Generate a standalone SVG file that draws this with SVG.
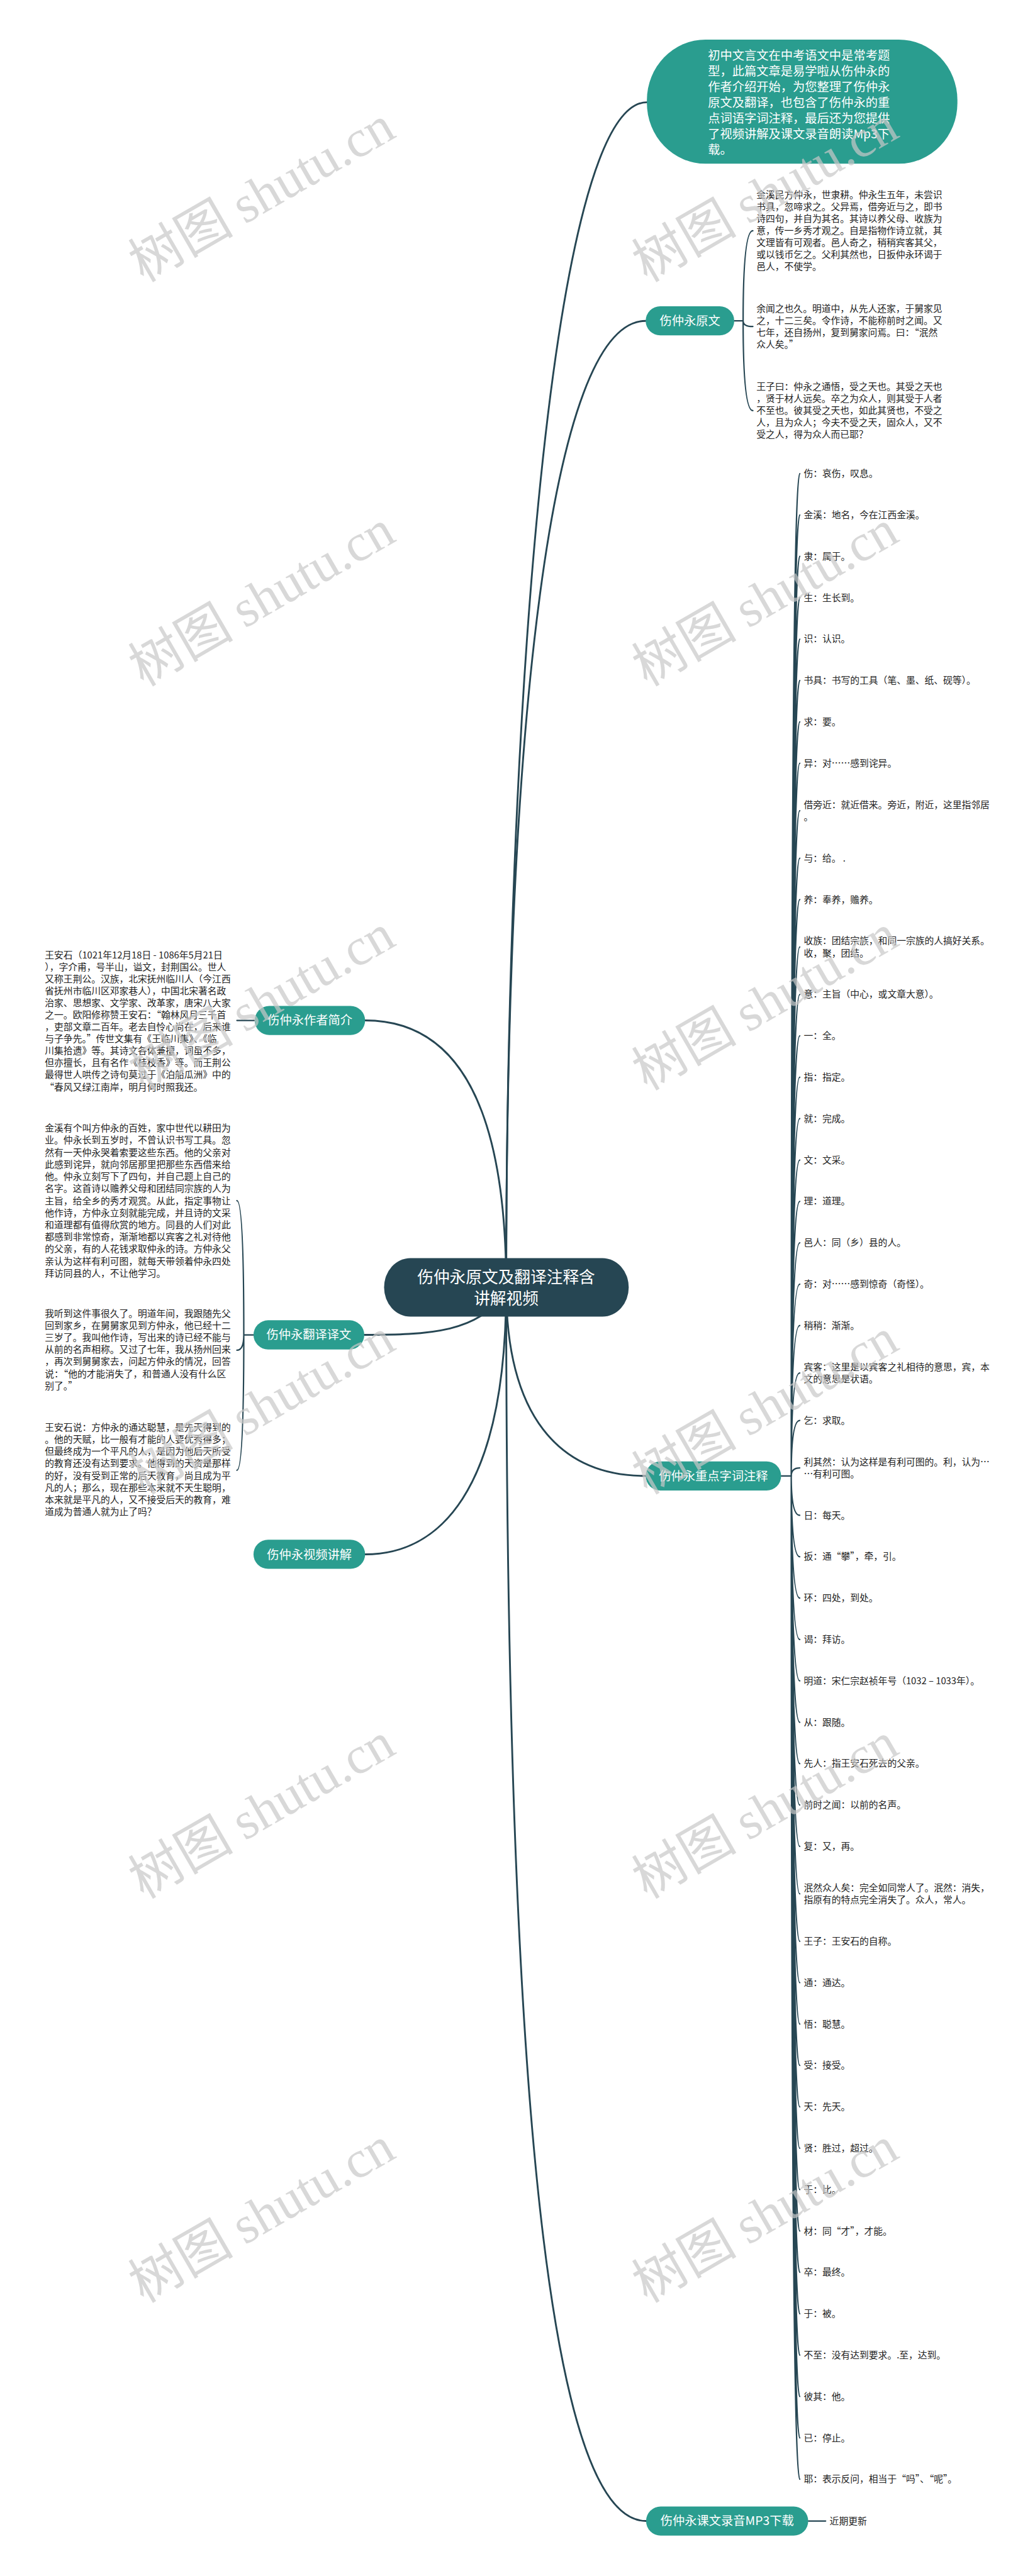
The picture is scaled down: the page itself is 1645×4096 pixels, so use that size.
<svg xmlns="http://www.w3.org/2000/svg" width="1645" height="4096" viewBox="0 0 1645 4096">
<style>
text{font-family:"Noto Sans CJK SC","Noto Sans",sans-serif}
.tn{fill:#2a9d8f}
.dn{fill:#264653}
.wt{fill:#fff;font-size:30px}
.bt{fill:#222;font-size:23px}
.cn{fill:none;stroke:#264653;stroke-width:4.5;stroke-linecap:round}
.cs{fill:none;stroke:#264653;stroke-width:3.5;stroke-linecap:round}
.wm{fill:#c8c8c8;opacity:.7;font-size:130px}
.wm tspan{font-family:"Liberation Serif",serif}
</style>
<rect width="1645" height="4096" fill="#fff"/>
<g transform="scale(0.6426)">
<g id="connectors">
<path class="cn" d="M1252 3185C1252 1800 1360 253 1600 253"/>
<path class="cn" d="M1252 3185C1252 1800 1360 794 1597 794"/>
<path class="cn" d="M1252 3185C1252 3500 1380 3652 1597 3652"/>
<path class="cn" d="M1252 3185C1252 5200 1360 6238 1598 6238"/>
<path class="cn" d="M1252 3185C1252 2650 1080 2525 903 2525"/>
<path class="cn" d="M1252 3185C1200 3300 1050 3303 901 3303"/>
<path class="cn" d="M1252 3185C1252 3700 1080 3846 903 3846"/>
<path class="cs" d="M630 2525H586"/>
<path class="cs" d="M627 3303H603M603 3303Q603 2971 586 2971M603 3303Q603 3341 586 3341M603 3303Q603 3638 586 3638"/>
<path class="cs" d="M1816 794H1838M1838 794Q1838 571 1862 571M1838 794Q1838 808 1862 808M1838 794Q1838 1016 1862 1016"/>
<path class="cs" d="M1999 6238H2042"/>
<path class="cs" d="M1932 3652H1957"/>
<path class="cs" d="M1957 3652Q1957 1172 1978 1172M1957 3652Q1957 1274.4 1978 1274.4M1957 3652Q1957 1376.8 1978 1376.8M1957 3652Q1957 1479.2 1978 1479.2M1957 3652Q1957 1581.6 1978 1581.6M1957 3652Q1957 1684 1978 1684M1957 3652Q1957 1786.4 1978 1786.4M1957 3652Q1957 1888.8 1978 1888.8M1957 3652Q1957 2006.2 1978 2006.2M1957 3652Q1957 2123.6 1978 2123.6M1957 3652Q1957 2226 1978 2226M1957 3652Q1957 2343.4 1978 2343.4M1957 3652Q1957 2460.8 1978 2460.8M1957 3652Q1957 2563.2 1978 2563.2M1957 3652Q1957 2665.6 1978 2665.6M1957 3652Q1957 2768 1978 2768M1957 3652Q1957 2870.4 1978 2870.4M1957 3652Q1957 2972.8 1978 2972.8M1957 3652Q1957 3075.2 1978 3075.2M1957 3652Q1957 3177.6 1978 3177.6M1957 3652Q1957 3280 1978 3280M1957 3652Q1957 3397.4 1978 3397.4M1957 3652Q1957 3514.8 1978 3514.8M1957 3652Q1957 3632.2 1978 3632.2M1957 3652Q1957 3749.6 1978 3749.6M1957 3652Q1957 3852 1978 3852M1957 3652Q1957 3954.4 1978 3954.4M1957 3652Q1957 4056.8 1978 4056.8M1957 3652Q1957 4159.2 1978 4159.2M1957 3652Q1957 4261.6 1978 4261.6M1957 3652Q1957 4364 1978 4364M1957 3652Q1957 4466.4 1978 4466.4M1957 3652Q1957 4568.8 1978 4568.8M1957 3652Q1957 4686.2 1978 4686.2M1957 3652Q1957 4803.6 1978 4803.6M1957 3652Q1957 4906 1978 4906M1957 3652Q1957 5008.4 1978 5008.4M1957 3652Q1957 5110.8 1978 5110.8M1957 3652Q1957 5213.2 1978 5213.2M1957 3652Q1957 5315.6 1978 5315.6M1957 3652Q1957 5418 1978 5418M1957 3652Q1957 5520.4 1978 5520.4M1957 3652Q1957 5622.8 1978 5622.8M1957 3652Q1957 5725.2 1978 5725.2M1957 3652Q1957 5827.6 1978 5827.6M1957 3652Q1957 5930 1978 5930M1957 3652Q1957 6032.4 1978 6032.4M1957 3652Q1957 6134.8 1978 6134.8"/>
</g>

<g id="center">
<rect class="dn" x="950" y="3113" width="605" height="145" rx="65" ry="72"/>
<text x="1252" y="3174" fill="#fff" font-size="40" text-anchor="middle">伤仲永原文及翻译注释含</text>
<text x="1252" y="3227" fill="#fff" font-size="40" text-anchor="middle">讲解视频</text>
</g>

<g id="intro">
<rect class="tn" x="1600" y="98" width="768" height="307" rx="145" ry="150"/>
<text class="wt" x="1751" y="147.5">初中文言文在中考语文中是常考题<tspan x="1751" dy="39">型，此篇文章是易学啦从伤仲永的</tspan><tspan x="1751" dy="39">作者介绍开始，为您整理了伤仲永</tspan><tspan x="1751" dy="39">原文及翻译，也包含了伤仲永的重</tspan><tspan x="1751" dy="39">点词语字词注释，最后还为您提供</tspan><tspan x="1751" dy="39">了视频讲解及课文录音朗读Mp3下</tspan><tspan x="1751" dy="39">载。</tspan></text>
</g>

<g id="yuanwen">
<rect class="tn" x="1597" y="758" width="219" height="72" rx="36"/>
<text class="wt" x="1706.5" y="804.5" text-anchor="middle">伤仲永原文</text>
</g>
<g id="yuanwen-1">
<text class="bt" x="1871" y="490">金溪民方仲永，世隶耕。仲永生五年，未尝识<tspan x="1871" dy="29.5">书具，忽啼求之。父异焉，借旁近与之，即书</tspan><tspan x="1871" dy="29.5">诗四句，并自为其名。其诗以养父母、收族为</tspan><tspan x="1871" dy="29.5">意，传一乡秀才观之。自是指物作诗立就，其</tspan><tspan x="1871" dy="29.5">文理皆有可观者。邑人奇之，稍稍宾客其父，</tspan><tspan x="1871" dy="29.5">或以钱币乞之。父利其然也，日扳仲永环谒于</tspan><tspan x="1871" dy="29.5">邑人，不使学。</tspan></text>
</g>
<g id="yuanwen-2">
<text class="bt" x="1871" y="772">余闻之也久。明道中，从先人还家，于舅家见<tspan x="1871" dy="29.5">之，十二三矣。令作诗，不能称前时之闻。又</tspan><tspan x="1871" dy="29.5">七年，还自扬州，复到舅家问焉。曰：“泯然</tspan><tspan x="1871" dy="29.5">众人矣。”</tspan></text>
</g>
<g id="yuanwen-3">
<text class="bt" x="1871" y="965">王子曰：仲永之通悟，受之天也。其受之天也<tspan x="1871" dy="29.5">，贤于材人远矣。卒之为众人，则其受于人者</tspan><tspan x="1871" dy="29.5">不至也。彼其受之天也，如此其贤也，不受之</tspan><tspan x="1871" dy="29.5">人，且为众人；今夫不受之天，固众人，又不</tspan><tspan x="1871" dy="29.5">受之人，得为众人而已耶？</tspan></text>
</g>

<g id="author">
<rect class="tn" x="630" y="2489" width="273" height="72" rx="36"/>
<text class="wt" x="766.5" y="2535.5" text-anchor="middle">伤仲永作者简介</text>
</g>
<g id="author-1">
<text class="bt" x="111" y="2371">王安石（1021年12月18日 - 1086年5月21日<tspan x="111" dy="29.7">），字介甫，号半山，谥文，封荆国公。世人</tspan><tspan x="111" dy="29.7">又称王荆公。汉族，北宋抚州临川人（今江西</tspan><tspan x="111" dy="29.7">省抚州市临川区邓家巷人），中国北宋著名政</tspan><tspan x="111" dy="29.7">治家、思想家、文学家、改革家，唐宋八大家</tspan><tspan x="111" dy="29.7">之一。欧阳修称赞王安石：“翰林风月三千首</tspan><tspan x="111" dy="29.7">，吏部文章二百年。老去自怜心尚在，后来谁</tspan><tspan x="111" dy="29.7">与子争先。”传世文集有《王临川集》、《临</tspan><tspan x="111" dy="29.7">川集拾遗》等。其诗文各体兼擅，词虽不多，</tspan><tspan x="111" dy="29.7">但亦擅长，且有名作《桂枝香》等。而王荆公</tspan><tspan x="111" dy="29.7">最得世人哄传之诗句莫过于《泊船瓜洲》中的</tspan><tspan x="111" dy="29.7">“春风又绿江南岸，明月何时照我还。</tspan></text>
</g>

<g id="translation">
<rect class="tn" x="627" y="3267" width="274" height="72" rx="36"/>
<text class="wt" x="764" y="3313.5" text-anchor="middle">伤仲永翻译译文</text>
</g>
<g id="translation-1">
<text class="bt" x="111" y="2800">金溪有个叫方仲永的百姓，家中世代以耕田为<tspan x="111" dy="29.9">业。仲永长到五岁时，不曾认识书写工具。忽</tspan><tspan x="111" dy="29.9">然有一天仲永哭着索要这些东西。他的父亲对</tspan><tspan x="111" dy="29.9">此感到诧异，就向邻居那里把那些东西借来给</tspan><tspan x="111" dy="29.9">他。仲永立刻写下了四句，并自己题上自己的</tspan><tspan x="111" dy="29.9">名字。这首诗以赡养父母和团结同宗族的人为</tspan><tspan x="111" dy="29.9">主旨，给全乡的秀才观赏。从此，指定事物让</tspan><tspan x="111" dy="29.9">他作诗，方仲永立刻就能完成，并且诗的文采</tspan><tspan x="111" dy="29.9">和道理都有值得欣赏的地方。同县的人们对此</tspan><tspan x="111" dy="29.9">都感到非常惊奇，渐渐地都以宾客之礼对待他</tspan><tspan x="111" dy="29.9">的父亲，有的人花钱求取仲永的诗。方仲永父</tspan><tspan x="111" dy="29.9">亲认为这样有利可图，就每天带领着仲永四处</tspan><tspan x="111" dy="29.9">拜访同县的人，不让他学习。</tspan></text>
</g>
<g id="translation-2">
<text class="bt" x="111" y="3258">我听到这件事很久了。明道年间，我跟随先父<tspan x="111" dy="29.9">回到家乡，在舅舅家见到方仲永，他已经十二</tspan><tspan x="111" dy="29.9">三岁了。我叫他作诗，写出来的诗已经不能与</tspan><tspan x="111" dy="29.9">从前的名声相称。又过了七年，我从扬州回来</tspan><tspan x="111" dy="29.9">，再次到舅舅家去，问起方仲永的情况，回答</tspan><tspan x="111" dy="29.9">说：“他的才能消失了，和普通人没有什么区</tspan><tspan x="111" dy="29.9">别了。”</tspan></text>
</g>
<g id="translation-3">
<text class="bt" x="111" y="3540">王安石说：方仲永的通达聪慧，是先天得到的<tspan x="111" dy="29.9">。他的天赋，比一般有才能的人要优秀得多；</tspan><tspan x="111" dy="29.9">但最终成为一个平凡的人，是因为他后天所受</tspan><tspan x="111" dy="29.9">的教育还没有达到要求。他得到的天资是那样</tspan><tspan x="111" dy="29.9">的好，没有受到正常的后天教育，尚且成为平</tspan><tspan x="111" dy="29.9">凡的人；那么，现在那些本来就不天生聪明，</tspan><tspan x="111" dy="29.9">本来就是平凡的人，又不接受后天的教育，难</tspan><tspan x="111" dy="29.9">道成为普通人就为止了吗？</tspan></text>
</g>

<g id="video">
<rect class="tn" x="627" y="3810" width="276" height="72" rx="36"/>
<text class="wt" x="765" y="3858" text-anchor="middle" font-size="34">伤仲永视频讲解</text>
</g>

<g id="notes">
<rect class="tn" x="1597" y="3616" width="335" height="72" rx="36"/>
<text class="wt" x="1764.5" y="3662.5" text-anchor="middle">伤仲永重点字词注释</text>
</g>
<g id="notes-items" class="bt">
<g id="note-01"><text class="bt" x="1988" y="1180">伤：哀伤，叹息。</text></g>
<g id="note-02"><text class="bt" x="1988" y="1282.4">金溪：地名，今在江西金溪。</text></g>
<g id="note-03"><text class="bt" x="1988" y="1384.8">隶：属于。</text></g>
<g id="note-04"><text class="bt" x="1988" y="1487.2">生：生长到。</text></g>
<g id="note-05"><text class="bt" x="1988" y="1589.6">识：认识。</text></g>
<g id="note-06"><text class="bt" x="1988" y="1692">书具：书写的工具（笔、墨、纸、砚等）。</text></g>
<g id="note-07"><text class="bt" x="1988" y="1794.4">求：要。</text></g>
<g id="note-08"><text class="bt" x="1988" y="1896.8">异：对……感到诧异。</text></g>
<g id="note-09"><text class="bt" x="1988" y="1999.2">借旁近：就近借来。旁近，附近，这里指邻居<tspan x="1988" dy="30">。</tspan></text></g>
<g id="note-10"><text class="bt" x="1988" y="2131.6">与：给。 .</text></g>
<g id="note-11"><text class="bt" x="1988" y="2234">养：奉养，赡养。</text></g>
<g id="note-12"><text class="bt" x="1988" y="2336.4">收族：团结宗族，和同一宗族的人搞好关系。<tspan x="1988" dy="30">收，聚，团结。</tspan></text></g>
<g id="note-13"><text class="bt" x="1988" y="2468.8">意：主旨（中心，或文章大意）。</text></g>
<g id="note-14"><text class="bt" x="1988" y="2571.2">一：全。</text></g>
<g id="note-15"><text class="bt" x="1988" y="2673.6">指：指定。</text></g>
<g id="note-16"><text class="bt" x="1988" y="2776">就：完成。</text></g>
<g id="note-17"><text class="bt" x="1988" y="2878.4">文：文采。</text></g>
<g id="note-18"><text class="bt" x="1988" y="2980.8">理：道理。</text></g>
<g id="note-19"><text class="bt" x="1988" y="3083.2">邑人：同（乡）县的人。</text></g>
<g id="note-20"><text class="bt" x="1988" y="3185.6">奇：对……感到惊奇（奇怪）。</text></g>
<g id="note-21"><text class="bt" x="1988" y="3288">稍稍：渐渐。</text></g>
<g id="note-22"><text class="bt" x="1988" y="3390.4">宾客：这里是以宾客之礼相待的意思，宾，本<tspan x="1988" dy="30">文的意思是状语。</tspan></text></g>
<g id="note-23"><text class="bt" x="1988" y="3522.8">乞：求取。</text></g>
<g id="note-24"><text class="bt" x="1988" y="3625.2">利其然：认为这样是有利可图的。利，认为…<tspan x="1988" dy="30">…有利可图。</tspan></text></g>
<g id="note-25"><text class="bt" x="1988" y="3757.6">日：每天。</text></g>
<g id="note-26"><text class="bt" x="1988" y="3860">扳：通“攀”，牵，引。</text></g>
<g id="note-27"><text class="bt" x="1988" y="3962.4">环：四处，到处。</text></g>
<g id="note-28"><text class="bt" x="1988" y="4064.8">谒：拜访。</text></g>
<g id="note-29"><text class="bt" x="1988" y="4167.2">明道：宋仁宗赵祯年号（1032 – 1033年）。</text></g>
<g id="note-30"><text class="bt" x="1988" y="4269.6">从：跟随。</text></g>
<g id="note-31"><text class="bt" x="1988" y="4372">先人：指王安石死去的父亲。</text></g>
<g id="note-32"><text class="bt" x="1988" y="4474.4">前时之闻：以前的名声。</text></g>
<g id="note-33"><text class="bt" x="1988" y="4576.8">复：又，再。</text></g>
<g id="note-34"><text class="bt" x="1988" y="4679.2">泯然众人矣：完全如同常人了。泯然：消失，<tspan x="1988" dy="30">指原有的特点完全消失了。众人，常人。</tspan></text></g>
<g id="note-35"><text class="bt" x="1988" y="4811.6">王子：王安石的自称。</text></g>
<g id="note-36"><text class="bt" x="1988" y="4914">通：通达。</text></g>
<g id="note-37"><text class="bt" x="1988" y="5016.4">悟：聪慧。</text></g>
<g id="note-38"><text class="bt" x="1988" y="5118.8">受：接受。</text></g>
<g id="note-39"><text class="bt" x="1988" y="5221.2">天：先天。</text></g>
<g id="note-40"><text class="bt" x="1988" y="5323.6">贤：胜过，超过。</text></g>
<g id="note-41"><text class="bt" x="1988" y="5426">于：比。</text></g>
<g id="note-42"><text class="bt" x="1988" y="5528.4">材：同“才”，才能。</text></g>
<g id="note-43"><text class="bt" x="1988" y="5630.8">卒：最终。</text></g>
<g id="note-44"><text class="bt" x="1988" y="5733.2">于：被。</text></g>
<g id="note-45"><text class="bt" x="1988" y="5835.6">不至：没有达到要求。.至，达到。</text></g>
<g id="note-46"><text class="bt" x="1988" y="5938">彼其：他。</text></g>
<g id="note-47"><text class="bt" x="1988" y="6040.4">已：停止。</text></g>
<g id="note-48"><text class="bt" x="1988" y="6142.8">耶：表示反问，相当于“吗”、“呢”。</text></g>
</g>

<g id="mp3">
<rect class="tn" x="1598" y="6202" width="401" height="72" rx="36"/>
<text class="wt" x="1798.5" y="6248.5" text-anchor="middle">伤仲永课文录音MP3下载</text>
</g>
<g id="mp3-1">
<text class="bt" x="2052" y="6246">近期更新</text>
</g>

<g id="watermarks">
<text class="wm" x="355" y="700" transform="rotate(-30 355 700)">树图 <tspan>shutu.cn</tspan></text>
<text class="wm" x="1600" y="700" transform="rotate(-30 1600 700)">树图 <tspan>shutu.cn</tspan></text>
<text class="wm" x="355" y="1700" transform="rotate(-30 355 1700)">树图 <tspan>shutu.cn</tspan></text>
<text class="wm" x="1600" y="1700" transform="rotate(-30 1600 1700)">树图 <tspan>shutu.cn</tspan></text>
<text class="wm" x="355" y="2700" transform="rotate(-30 355 2700)">树图 <tspan>shutu.cn</tspan></text>
<text class="wm" x="1600" y="2700" transform="rotate(-30 1600 2700)">树图 <tspan>shutu.cn</tspan></text>
<text class="wm" x="355" y="3700" transform="rotate(-30 355 3700)">树图 <tspan>shutu.cn</tspan></text>
<text class="wm" x="1600" y="3700" transform="rotate(-30 1600 3700)">树图 <tspan>shutu.cn</tspan></text>
<text class="wm" x="355" y="4700" transform="rotate(-30 355 4700)">树图 <tspan>shutu.cn</tspan></text>
<text class="wm" x="1600" y="4700" transform="rotate(-30 1600 4700)">树图 <tspan>shutu.cn</tspan></text>
<text class="wm" x="355" y="5700" transform="rotate(-30 355 5700)">树图 <tspan>shutu.cn</tspan></text>
<text class="wm" x="1600" y="5700" transform="rotate(-30 1600 5700)">树图 <tspan>shutu.cn</tspan></text>
</g>
</g>
</svg>
